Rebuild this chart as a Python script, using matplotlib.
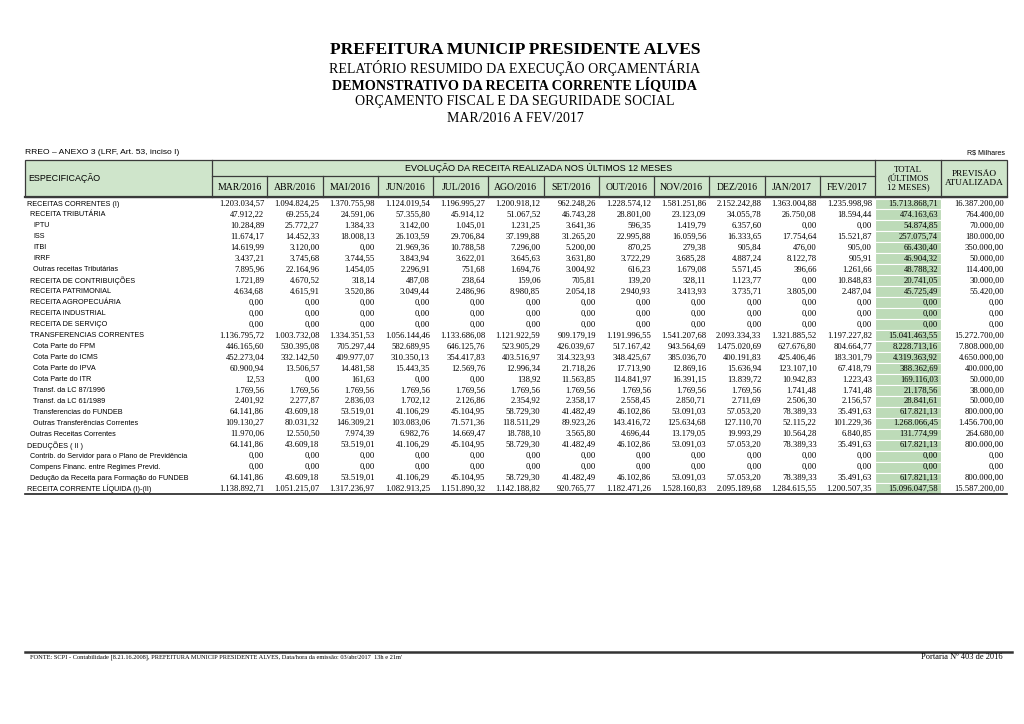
import matplotlib
matplotlib.use('Agg')
from matplotlib import pyplot as plt
from matplotlib.patches import Rectangle

# ---- dados (R$) ----
row_labels = [
    'RECEITAS CORRENTES (I)', 'RECEITA TRIBUTÁRIA', 'IPTU', 'ISS', 'ITBI', 'IRRF',
    'Outras receitas Tributárias', 'RECEITA DE CONTRIBUIÇÕES', 'RECEITA PATRIMONIAL',
    'RECEITA AGROPECUÁRIA', 'RECEITA INDUSTRIAL', 'RECEITA DE SERVIÇO',
    'TRANSFERENCIAS CORRENTES', 'Cota Parte do FPM', 'Cota Parte do ICMS',
    'Cota Parte do IPVA', 'Cota Parte do ITR', 'Transf. da LC 87/1996',
    'Transf. da LC 61/1989', 'Transferencias do FUNDEB', 'Outras Transferências Correntes',
    'Outras Receitas Correntes', 'DEDUÇÕES ( II )',
    'Contrib. do Servidor para o Plano de Previdência',
    'Compens Financ. entre Regimes Previd.',
    'Dedução da Receita para Formação do FUNDEB',
    'RECEITA CORRENTE LÍQUIDA (I)-(II)',
]
row_indent = [0, 1, 2, 2, 2, 2, 2, 1, 1, 1, 1, 1, 1, 2, 2, 2, 2, 2, 2, 2, 2, 1, 0, 1, 1, 1, 0]

months = ['MAR/2016', 'ABR/2016', 'MAI/2016', 'JUN/2016', 'JUL/2016', 'AGO/2016',
          'SET/2016', 'OUT/2016', 'NOV/2016', 'DEZ/2016', 'JAN/2017', 'FEV/2017']

mar16 = [1203034.57, 47912.22, 10284.89, 11674.17, 14619.99, 3437.21, 7895.96, 1721.89, 4634.68, 0, 0, 0,
         1136795.72, 446165.60, 452273.04, 60900.94, 12.53, 1769.56, 2401.92, 64141.86, 109130.27,
         11970.06, 64141.86, 0, 0, 64141.86, 1138892.71]
abr16 = [1094824.25, 69255.24, 25772.27, 14452.33, 3120.00, 3745.68, 22164.96, 4670.52, 4615.91, 0, 0, 0,
         1003732.08, 530395.08, 332142.50, 13506.57, 0.00, 1769.56, 2277.87, 43609.18, 80031.32,
         12550.50, 43609.18, 0, 0, 43609.18, 1051215.07]
mai16 = [1370755.98, 24591.06, 1384.33, 18008.13, 0.00, 3744.55, 1454.05, 318.14, 3520.86, 0, 0, 0,
         1334351.53, 705297.44, 409977.07, 14481.58, 161.63, 1769.56, 2836.03, 53519.01, 146309.21,
         7974.39, 53519.01, 0, 0, 53519.01, 1317236.97]
jun16 = [1124019.54, 57355.80, 3142.00, 26103.59, 21969.36, 3843.94, 2296.91, 487.08, 3049.44, 0, 0, 0,
         1056144.46, 582689.95, 310350.13, 15443.35, 0.00, 1769.56, 1702.12, 41106.29, 103083.06,
         6982.76, 41106.29, 0, 0, 41106.29, 1082913.25]
jul16 = [1196995.27, 45914.12, 1045.01, 29706.84, 10788.58, 3622.01, 751.68, 238.64, 2486.96, 0, 0, 0,
         1133686.08, 646125.76, 354417.83, 12569.76, 0.00, 1769.56, 2126.86, 45104.95, 71571.36,
         14669.47, 45104.95, 0, 0, 45104.95, 1151890.32]
ago16 = [1200918.12, 51067.52, 1231.25, 37199.88, 7296.00, 3645.63, 1694.76, 159.06, 8980.85, 0, 0, 0,
         1121922.59, 523905.29, 403516.97, 12996.34, 138.92, 1769.56, 2354.92, 58729.30, 118511.29,
         18788.10, 58729.30, 0, 0, 58729.30, 1142188.82]
set16 = [962248.26, 46743.28, 3641.36, 31265.20, 5200.00, 3631.80, 3004.92, 705.81, 2054.18, 0, 0, 0,
         909179.19, 426039.67, 314323.93, 21718.26, 11563.85, 1769.56, 2358.17, 41482.49, 89923.26,
         3565.80, 41482.49, 0, 0, 41482.49, 920765.77]
out16 = [1228574.12, 28801.00, 596.35, 22995.88, 870.25, 3722.29, 616.23, 139.20, 2940.93, 0, 0, 0,
         1191996.55, 517167.42, 348425.67, 17713.90, 114841.97, 1769.56, 2558.45, 46102.86, 143416.72,
         4696.44, 46102.86, 0, 0, 46102.86, 1182471.26]
nov16 = [1581251.86, 23123.09, 1419.79, 16059.56, 279.38, 3685.28, 1679.08, 328.11, 3413.93, 0, 0, 0,
         1541207.68, 943564.69, 385036.70, 12869.16, 16391.15, 1769.56, 2850.71, 53091.03, 125634.68,
         13179.05, 53091.03, 0, 0, 53091.03, 1528160.83]
dez16 = [2152242.88, 34055.78, 6357.60, 16333.65, 905.84, 4887.24, 5571.45, 1123.77, 3735.71, 0, 0, 0,
         2093334.33, 1475020.69, 400191.83, 15636.94, 13839.72, 1769.56, 2711.69, 57053.20, 127110.70,
         19993.29, 57053.20, 0, 0, 57053.20, 2095189.68]
jan17 = [1363004.88, 26750.08, 0.00, 17754.64, 476.00, 8122.78, 396.66, 0.00, 3805.00, 0, 0, 0,
         1321885.52, 627676.80, 425406.46, 123107.10, 10942.83, 1741.48, 2506.30, 78389.33, 52115.22,
         10564.28, 78389.33, 0, 0, 78389.33, 1284615.55]
fev17 = [1235998.98, 18594.44, 0.00, 15521.87, 905.00, 905.91, 1261.66, 10848.83, 2487.04, 0, 0, 0,
         1197227.82, 804664.77, 183301.79, 67418.79, 1223.43, 1741.48, 2156.57, 35491.63, 101229.36,
         6840.85, 35491.63, 0, 0, 35491.63, 1200507.35]
total_12m = [15713868.71, 474163.63, 54874.85, 257075.74, 66430.40, 46904.32, 48788.32, 20741.05, 45725.49,
             0, 0, 0, 15041463.55, 8228713.16, 4319363.92, 388362.69, 169116.03, 21178.56, 28841.61,
             617821.13, 1268066.45, 131774.99, 617821.13, 0, 0, 617821.13, 15096047.58]
previsao = [16387200.00, 764400.00, 70000.00, 180000.00, 350000.00, 50000.00, 114400.00, 30000.00, 55420.00,
            0, 0, 0, 15272700.00, 7808000.00, 4650000.00, 400000.00, 50000.00, 38000.00, 50000.00,
            800000.00, 1456700.00, 264680.00, 800000.00, 0, 0, 800000.00, 15587200.00]

month_cols = [mar16, abr16, mai16, jun16, jul16, ago16, set16, out16, nov16, dez16, jan17, fev17]


def fmt_br(v):
    s = '{:,.2f}'.format(v)
    return s.replace(',', 'X').replace('.', ',').replace('X', '.')


SERIF = 'Liberation Serif'
SANS = 'Liberation Sans'
GREEN_HEAD = '#cfe5cb'
GREEN_TOT = '#bddbb8'
LINE = '#3a3a3a'
NUM_FS = 6.2

fig = plt.figure(figsize=(10.24, 7.24), dpi=100)
ax = fig.add_axes([0, 0, 1, 1])
ax.set_xlim(0, 1024)
ax.set_ylim(724, 0)
ax.axis('off')

# titulo
titles = [('PREFEITURA MUNICIP PRESIDENTE ALVES', 'bold', 12.6, 50),
          ('RELATÓRIO RESUMIDO DA EXECUÇÃO ORÇAMENTÁRIA', 'normal', 10, 68),
          ('DEMONSTRATIVO DA RECEITA CORRENTE LÍQUIDA', 'bold', 10.2, 85),
          ('ORÇAMENTO FISCAL E DA SEGURIDADE SOCIAL', 'normal', 10, 102),
          ('MAR/2016 A FEV/2017', 'normal', 10, 118)]
for txt, w, fs, y in titles:
    ax.text(515, y, txt, ha='center', va='center', family=SERIF, fontweight=w, fontsize=fs)

# geometria da tabela
x_left, x_spec = 25, 212
x_tot, x_prev, x_right = 875, 941, 1007
col_w = (x_tot - x_spec) / 12
y_top, y_mid, y_head = 160, 176, 197
row0, row_h = 204, 10.96

ax.text(x_left, 152, 'RREO – ANEXO 3 (LRF, Art. 53, inciso I)', ha='left', va='center',
        family=SANS, fontsize=6.1)
ax.text(1005, 153, 'R$ Milhares', ha='right', va='center', family=SANS, fontsize=5)

# cabecalho
ax.add_patch(Rectangle((x_left, y_top), x_right - x_left, y_head - y_top,
                       facecolor=GREEN_HEAD, edgecolor=LINE, lw=0.9))
for xv in (x_spec, x_tot, x_prev):
    ax.plot([xv, xv], [y_top, y_head], color=LINE, lw=0.9)
ax.plot([x_spec, x_tot], [y_mid, y_mid], color=LINE, lw=0.9)
for i in range(1, 12):
    xv = x_spec + i * col_w
    ax.plot([xv, xv], [y_mid, y_head], color=LINE, lw=0.9)
ax.plot([x_left, x_right], [y_head, y_head], color=LINE, lw=1.6)

ax.text(x_left + 3, 178, 'ESPECIFICAÇÃO', ha='left', va='center', family=SANS, fontsize=6.4)
ax.text((x_spec + x_tot) / 2 - 5, 168, 'EVOLUÇÃO DA RECEITA REALIZADA NOS ÚLTIMOS 12 MESES',
        ha='center', va='center', family=SANS, fontsize=6.5)
for i, m in enumerate(months):
    ax.text(x_spec + (i + 0.5) * col_w, 187, m, ha='center', va='center', family=SERIF, fontsize=7)
ax.text((x_tot + x_prev) / 2, 178.5, 'TOTAL\n(ÚLTIMOS\n12 MESES)', ha='center', va='center',
        family=SERIF, fontsize=6.4, linespacing=1.0)
ax.text((x_prev + x_right) / 2, 178.5, 'PREVISÃO\nATUALIZADA', ha='center', va='center',
        family=SERIF, fontsize=6.7, linespacing=1.1)

# corpo
n = len(row_labels)
for r in range(n):
    yc = row0 + r * row_h
    ax.add_patch(Rectangle((x_tot, yc - row_h / 2), x_prev - x_tot, row_h,
                           facecolor=GREEN_TOT, edgecolor='white', lw=0.8))
    ax.text(x_left + 2 + 3 * row_indent[r], yc, row_labels[r], ha='left', va='center',
            family=SANS, fontsize=5.2)
    for c, col in enumerate(month_cols):
        ax.text(x_spec + (c + 1) * col_w - 3, yc, fmt_br(col[r]), ha='right', va='center',
                family=SERIF, fontsize=NUM_FS)
    ax.text(x_prev - 3, yc, fmt_br(total_12m[r]), ha='right', va='center', family=SERIF, fontsize=NUM_FS)
    ax.text(x_right - 3, yc, fmt_br(previsao[r]), ha='right', va='center', family=SERIF, fontsize=NUM_FS)

y_end = row0 + (n - 0.5) * row_h
ax.plot([x_left, x_right], [y_end, y_end], color='#222222', lw=1.2)

# rodape
ax.plot([x_left, 1012], [652, 652], color='#333333', lw=1.8)
ax.text(x_left + 5, 657, 'FONTE: SCPI - Contabilidade [8.21.16.2008], PREFEITURA MUNICIP PRESIDENTE ALVES, '
        'Data/hora da emissão: 03/abr/2017  13h e 21m\'', ha='left', va='center', family=SERIF, fontsize=4.6)
ax.text(1003, 657, 'Portaria Nº 403 de 2016', ha='right', va='center', family=SERIF, fontsize=6)

fig.savefig('out.png', dpi=100, facecolor='white')
